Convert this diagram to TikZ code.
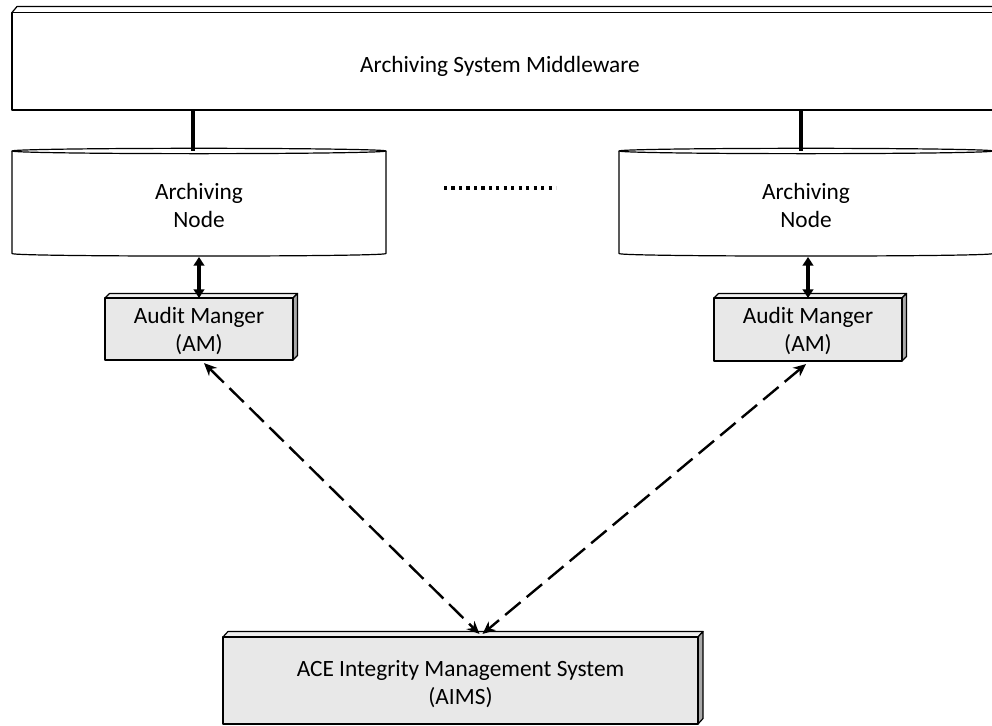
\documentclass[tikz,border=0pt]{standalone}
\usepackage{fontspec}
\setmainfont{Carlito}
\usetikzlibrary{arrows.meta,calc}

\definecolor{boxfill}{HTML}{E8E8E8}
\definecolor{boxtop}{HTML}{EFEFEF}
\definecolor{boxside}{HTML}{A9A9A9}

\tikzset{
  face/.style={draw=black, line width=0.9pt, line join=round},
  plate/.style={rectangle, inner sep=0pt, outer sep=0pt},
  txt/.style={font=\fontsize{17.5}{21}\selectfont, align=center, inner sep=0pt},
  link/.style={line width=3pt},
  biarrow/.style={line width=2.4pt, {Triangle[length=6.5pt,width=8pt]}-{Triangle[length=6.5pt,width=8pt]}},
  dasharrow/.style={line width=1.8pt, dash pattern=on 15pt off 6pt,
    {Stealth[length=9.5pt,width=8.5pt]}-{Stealth[length=9.5pt,width=8.5pt]}},
  dotline/.style={line width=2.6pt, dash pattern=on 2.4pt off 3.2pt}
}

\begin{document}
\begin{tikzpicture}[x=0.75pt,y=-0.75pt]
\useasboundingbox (0,0) rectangle (992,725);
\clip (0,0) rectangle (992,725);

% ---------- middleware slab ----------
\node[plate, minimum width=741pt, minimum height=73.1pt] (mw) at (506,61.25) {};
\fill[white] (mw.north west) -- ++(5,-6) -- ($(mw.north east)+(5,-6)$) -- (mw.north east) -- cycle;
\draw[face] (mw.north west) -- ++(5,-6) -- ($(mw.north east)+(5,-6)$);
\draw[face, fill=white] (mw.north west) rectangle (mw.south east);
\node[txt] (mwt) at (500,66.4) {\strut Archiving System Middleware};

% ---------- archiving nodes (flat cylinders) ----------
\node[plate, minimum width=280.5pt, minimum height=76.9pt] (an1) at (199,202.25) {};
\node[plate, minimum width=280.5pt, minimum height=76.9pt] (an2) at (806,202.25) {};
\foreach \n in {an1,an2}{
  \draw[face, fill=white] (\n.north west) -- (\n.south west)
    .. controls ($(\n.south west)+(0,3.4)$) and ($(\n.south east)+(0,3.4)$) .. (\n.south east)
    -- (\n.north east);
  \draw[face, fill=white] (\n.north) ellipse [x radius=140.25pt, y radius=2pt];
}
\node[txt] (an1t) at (199,207.4) {\strut Archiving\\\strut Node};
\node[txt] (an2t) at (806,207.4) {\strut Archiving\\\strut Node};

% dotted ellipsis between the archiving nodes
\coordinate (dotsL) at (444,188);
\coordinate (dotsR) at (556,188);
\draw[dotline] (dotsL) -- (dotsR);

% links from middleware down to the archiving nodes
\draw[link] ([xshift=-4.5pt]an1.north) -- ([xshift=-4.5pt]an1.north |- mw.south);
\draw[link] ([xshift=-3.75pt]an2.north) -- ([xshift=-3.75pt]an2.north |- mw.south);

% ---------- audit managers ----------
\node[plate, minimum width=141pt, minimum height=46.5pt] (am1) at (199,329) {};
\node[plate, minimum width=141pt, minimum height=47.25pt] (am2) at (808,329.5) {};
\foreach \n in {am1,am2}{
  \draw[face, fill=boxtop] (\n.north west) -- ++(4.5,-4.5) -- ($(\n.north east)+(4.5,-4.5)$) -- (\n.north east) -- cycle;
  \draw[face, fill=boxside] (\n.north east) -- ++(4.5,-4.5) -- ($(\n.south east)+(4.5,-4.5)$) -- (\n.south east) -- cycle;
  \draw[face, fill=boxfill] (\n.north west) rectangle (\n.south east);
}
\node[txt] (am1t) at (199,331.4) {\strut Audit Manger\\\strut (AM)};
\node[txt] (am2t) at (808,331.4) {\strut Audit Manger\\\strut (AM)};

% ---------- integrity management system ----------
\node[plate, minimum width=356.25pt, minimum height=65.25pt] (aims) at (460.5,680.5) {};
\draw[face, fill=boxtop] (aims.north west) -- ++(5,-5.5) -- ($(aims.north east)+(5,-5.5)$) -- (aims.north east) -- cycle;
\draw[face, fill=boxside] (aims.north east) -- ++(5,-5.5) -- ($(aims.south east)+(5,-5.5)$) -- (aims.south east) -- cycle;
\draw[face, fill=boxfill] (aims.north west) rectangle (aims.south east);
\node[txt] (aimst) at (460.5,685) {\strut ACE Integrity Management System\\\strut (AIMS)};

% ---------- connectors ----------
\draw[biarrow] ([yshift=-2.6pt]an1.south) -- (am1.north);
\draw[biarrow] ([yshift=-2.6pt]am2.north |- an2.south) -- (am2.north);

\draw[dasharrow] ([xshift=3.75pt,yshift=-2.3pt]am1.south) -- ([xshift=14.2pt,yshift=2.3pt]aims.north);
\draw[dasharrow] ([xshift=-1.5pt,yshift=-2.3pt]am2.south) -- ([xshift=16.5pt,yshift=2.3pt]aims.north);
\end{tikzpicture}
\end{document}
